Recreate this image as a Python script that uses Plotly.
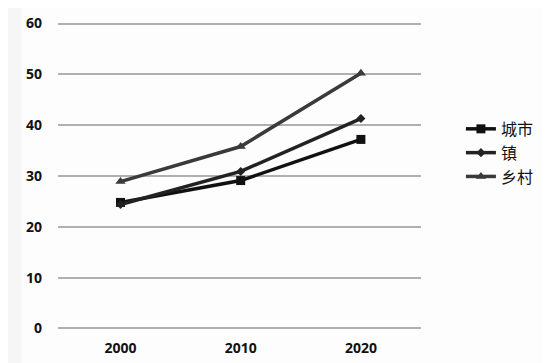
import plotly.graph_objects as go

years = ["2000", "2010", "2020"]
city = [24.8, 29.1, 37.2]
town = [24.4, 30.9, 41.3]
rural = [28.9, 35.8, 50.2]
y_ticks = [0, 10, 20, 30, 40, 50, 60]

fig = go.Figure()
fig.add_trace(go.Scatter(x=years, y=city, name="城市", mode="lines+markers",
                         line=dict(color="#111111", width=3.5),
                         marker=dict(symbol="square", size=9, color="#111111")))
fig.add_trace(go.Scatter(x=years, y=town, name="镇", mode="lines+markers",
                         line=dict(color="#222222", width=3.5),
                         marker=dict(symbol="diamond", size=7, color="#222222")))
fig.add_trace(go.Scatter(x=years, y=rural, name="乡村", mode="lines+markers",
                         line=dict(color="#3a3a3a", width=3.5),
                         marker=dict(symbol="triangle-up", size=9, color="#3a3a3a")))

fig.update_layout(
    width=550, height=363,
    margin=dict(l=50, r=137, t=14, b=41),
    paper_bgcolor="#f6f6f6", plot_bgcolor="rgba(0,0,0,0)",
    font=dict(family="Open Sans, Noto Sans CJK SC", size=14, color="#111111"),
    showlegend=True,
    legend=dict(x=1.11, y=0.708, xanchor="left", yanchor="top",
                font=dict(family="Noto Sans CJK SC", size=16, color="#111111"),
                tracegroupgap=2, itemwidth=30, bgcolor="rgba(0,0,0,0)"),
    xaxis=dict(type="category", range=[-0.52, 2.5], showgrid=False, zeroline=False,
               showline=False, ticks="", automargin=False, ticklabelstandoff=8,
               tickfont=dict(family="Open Sans", size=14, weight="bold")),
    yaxis=dict(range=[-0.3, 60.3], tickvals=y_ticks, showgrid=True, gridcolor="#b0b0b0",
               gridwidth=1.5, zeroline=False, showline=False, ticks="", automargin=False,
               ticklabelstandoff=15, tickfont=dict(family="Open Sans", size=14, weight="bold")),
    shapes=[dict(type="rect", xref="paper", yref="paper", x0=-0.1, x1=1.35,
                 y0=-0.2, y1=1.2, fillcolor="#fdfdfd", line=dict(width=0), layer="below")],
)

fig.write_html("out.html")
